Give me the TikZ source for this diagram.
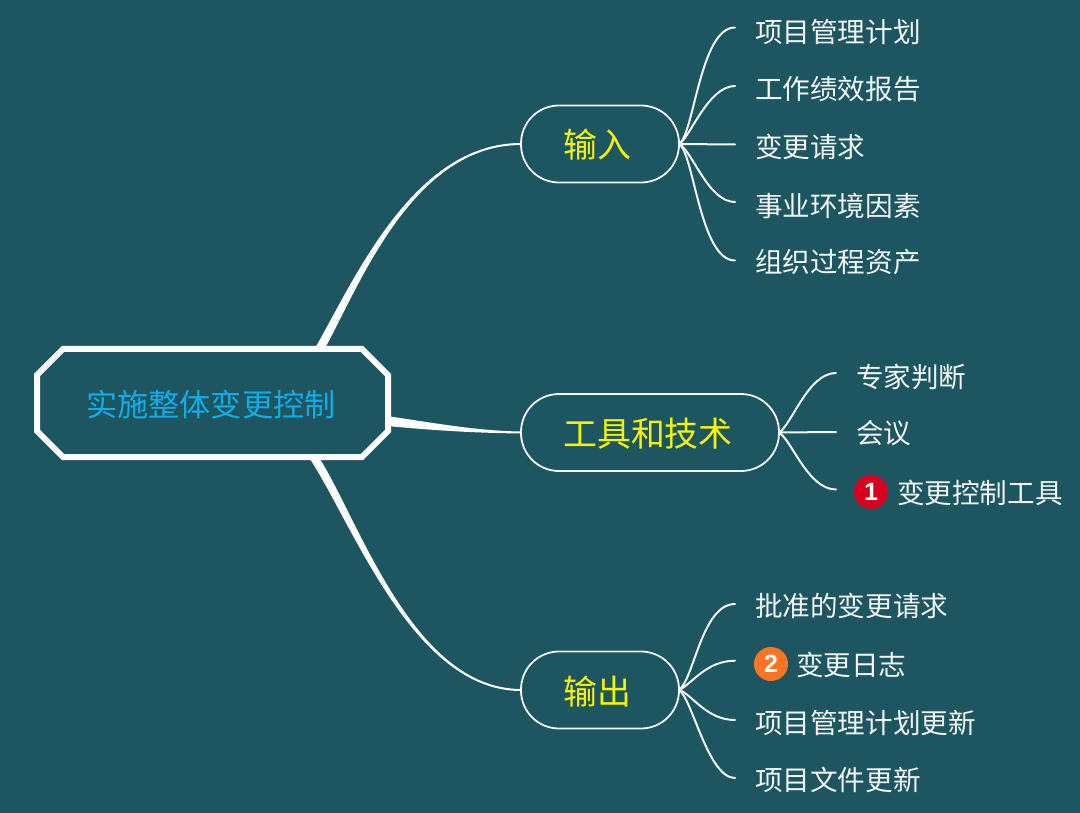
\documentclass[tikz,border=0pt]{standalone}
\usepackage{fontspec}
\setmainfont{Noto Sans CJK SC}
\newfontfamily\digitfont{Liberation Sans}
\usetikzlibrary{calc,shapes.misc}
\definecolor{bgc}{HTML}{1D5560}
\definecolor{rootc}{HTML}{0FAEE8}
\definecolor{yellowc}{HTML}{F5F500}
\definecolor{redc}{HTML}{D7001E}
\definecolor{orangec}{HTML}{F97524}
\definecolor{leafc}{HTML}{F2F7F7}
\tikzset{
  x=1pt,y=-1pt,
  rootbox/.style={chamfered rectangle,chamfered rectangle xsep=13pt,chamfered rectangle ysep=13pt,draw=white,line width=6pt,fill=bgc,minimum width=351pt,minimum height=108pt,inner sep=0pt,outer sep=0pt,text=rootc,text height=26.5pt,text depth=0pt,font=\fontsize{31.2}{31.2}\selectfont},
  midbox/.style={draw=leafc,line width=1.8pt,rounded corners=38pt,fill=bgc,minimum height=77pt,inner sep=0pt,outer sep=0pt,text=yellowc,text height=28pt,text depth=0pt,font=\fontsize{33.9}{33.9}\selectfont},
  leaf/.style={anchor=west,inner sep=0pt,outer sep=0pt,text=leafc,font=\fontsize{27.6}{27.6}\selectfont},
  badge/.style={circle,minimum size=34pt,inner sep=0pt,outer sep=0pt,text=white,font=\digitfont\bfseries\fontsize{25}{25}\selectfont},
  twig/.style={draw=leafc,line width=2pt,line cap=round},
  trunk/.style={fill=white,draw=none},
}
% #1 parent, #2 end node, #3 twig end relative to the end node's west, #4 first control relative to the parent, #5 second control's x distance
\newcommand{\twigto}[5]{\draw[twig] (#1.east) .. controls ($(#1.east)+(#4)$) and ($(#2.west)+(#3)+(#5,0)$) .. ($(#2.west)+(#3)$);}
\begin{document}
\begin{tikzpicture}
\useasboundingbox[fill=bgc] (0,0) rectangle (1080,813);
\node[rootbox] (root) at (212.5,403) {实施整体变更控制\kern3pt};
\node[midbox,minimum width=158pt] (inp) at (600,144) {输入\kern5pt};
\node[midbox,minimum width=258pt] (tools) at (650,432.5) {工具和技术\kern4pt};
\node[midbox,minimum width=158pt] (outp) at (600,690) {输出\kern5pt};
% leaves
\node[leaf] (a1) at (755,31.5) {项目管理计划};
\node[leaf] (a2) at (755,89.5) {工作绩效报告};
\node[leaf] (a3) at (755,146.5) {变更请求};
\node[leaf] (a4) at (755,205.5) {事业环境因素};
\node[leaf] (a5) at (755,262.5) {组织过程资产};
\node[leaf] (b1) at (856,376.5) {专家判断};
\node[leaf] (b2) at (856,433.5) {会议};
\node[badge,fill=redc] (b3m) at (871,492) {1};
\node[leaf] (b3) at (897,492.5) {变更控制工具};
\node[leaf] (c1) at (755,605.5) {批准的变更请求};
\node[badge,fill=orangec] (c2m) at (771,664) {2};
\node[leaf] (c2) at (796,664.5) {变更日志};
\node[leaf] (c3) at (755,722.5) {项目管理计划更新};
\node[leaf] (c4) at (755,779.5) {项目文件更新};
% trunks
\fill[trunk] ($(root.north)+(101.5,1)$) .. controls (353,283) and (412,143) .. ($(inp.west)+(0,-1)$) -- ($(inp.west)+(0,1)$) .. controls (412,145) and (359,287) .. ($(root.north)+(111.5,1)$) -- cycle;
\fill[trunk] ($(root.east)+(-1,13)$) .. controls (440,424) and (480,431) .. ($(tools.west)+(0,-1)$) -- ($(tools.west)+(0,1)$) .. controls (480,433) and (440,431) .. ($(root.east)+(-1,23)$) -- cycle;
\fill[trunk] ($(root.south)+(95.5,-1)$) .. controls (352,521) and (412,691) .. ($(outp.west)+(0,1)$) -- ($(outp.west)+(0,-1)$) .. controls (412,689) and (358,517) .. ($(root.south)+(105.5,-1)$) -- cycle;
% twigs
\twigto{inp}{a1}{-20,-4}{15,-9}{-35}
\twigto{inp}{a2}{-20,-3.5}{11,-6}{-27}
\twigto{inp}{a3}{-20,-2}{20,0}{-20}
\twigto{inp}{a4}{-20,-3.5}{13,6}{-27}
\twigto{inp}{a5}{-20,-2}{15,9}{-35}
\twigto{tools}{b1}{-20,-3.5}{13,-8}{-28}
\twigto{tools}{b2}{-20,-1.5}{20,0}{-20}
\twigto{tools}{b3m}{-18,-2.5}{13,8}{-28}
\twigto{outp}{c1}{-20,-1.5}{15,-11}{-33}
\twigto{outp}{c2m}{-19,-3.3}{13,-6}{-29}
\twigto{outp}{c3}{-20,-2.5}{13,4}{-29}
\twigto{outp}{c4}{-20,-1.5}{13,8}{-27}
\end{tikzpicture}
\end{document}
